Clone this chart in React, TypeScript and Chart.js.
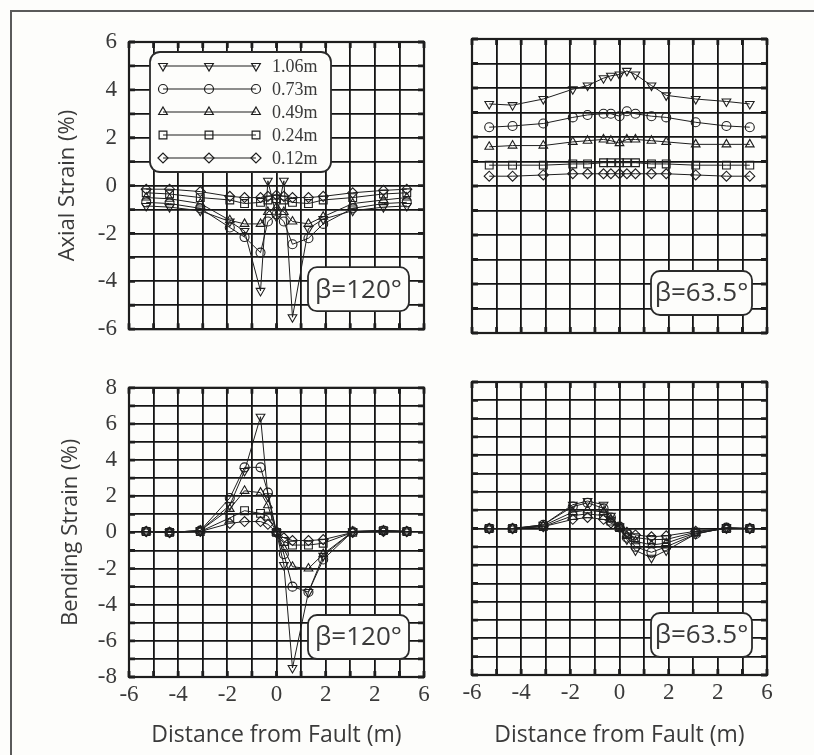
import React, { useEffect, useRef } from 'react';
import { Chart, registerables } from 'chart.js';
Chart.register(...registerables);

// ---------- data ----------
const X_POS = [-5.3, -4.35, -3.1, -1.9, -1.3, -0.65, -0.35, 0, 0.3, 0.65, 1.3, 1.9, 3.1, 4.35, 5.3];
const SERIES_LABELS = ['1.06m', '0.73m', '0.49m', '0.24m', '0.12m'];
const X_TICK_LABELS = ['-6', '-4', '-2', '0', '2', '2', '6'];

// Axial strain, beta = 120
const AX120_106 = [-0.85, -0.9, -1.05, -1.5, -1.9, -4.4, 0.2, -1.3, 0.2, -5.5, -1.8, -1.4, -1.05, -0.9, -0.85];
const AX120_073 = [-0.7, -0.75, -0.95, -1.75, -2.15, -2.8, -1.5, -1.2, -1.5, -2.45, -2.2, -1.6, -0.95, -0.75, -0.7];
const AX120_049 = [-0.5, -0.55, -0.75, -1.45, -1.6, -1.6, -1.1, -0.9, -1.1, -1.5, -1.6, -1.3, -0.75, -0.6, -0.5];
const AX120_024 = [-0.3, -0.35, -0.5, -0.6, -0.75, -0.7, -0.6, -0.55, -0.6, -0.7, -0.75, -0.6, -0.5, -0.35, -0.3];
const AX120_012 = [-0.15, -0.15, -0.25, -0.45, -0.5, -0.5, -0.45, -0.4, -0.45, -0.5, -0.5, -0.45, -0.3, -0.2, -0.15];

// Axial strain, beta = 63.5
const AX63_106 = [3.35, 3.3, 3.55, 3.95, 4.1, 4.4, 4.5, 4.55, 4.7, 4.55, 4.1, 3.7, 3.55, 3.45, 3.35];
const AX63_073 = [2.4, 2.45, 2.55, 2.8, 2.9, 2.95, 2.95, 2.85, 3.05, 2.95, 2.85, 2.8, 2.6, 2.45, 2.4];
const AX63_049 = [1.6, 1.65, 1.65, 1.8, 1.85, 1.9, 1.85, 1.75, 1.9, 1.9, 1.85, 1.8, 1.7, 1.7, 1.7];
const AX63_024 = [0.85, 0.85, 0.85, 0.9, 0.9, 0.95, 0.95, 0.95, 0.95, 0.95, 0.9, 0.9, 0.85, 0.85, 0.85];
const AX63_012 = [0.4, 0.4, 0.45, 0.5, 0.5, 0.5, 0.5, 0.5, 0.5, 0.5, 0.5, 0.5, 0.45, 0.4, 0.4];

// Bending strain, beta = 120
const BE120_106 = [0.05, 0, 0.1, 1.5, 3.4, 6.4, 2.0, 0, -1.8, -7.5, -3.3, -1.3, 0.05, 0.1, 0.05];
const BE120_073 = [0.05, 0, 0.1, 1.9, 3.6, 3.6, 2.2, 0, -1.2, -3.0, -3.3, -1.5, 0.05, 0.1, 0.05];
const BE120_049 = [0.05, 0, 0.1, 1.3, 2.3, 2.2, 1.5, 0, -0.9, -1.9, -2.0, -1.2, 0.05, 0.1, 0.05];
const BE120_024 = [0.05, 0, 0.05, 0.8, 1.2, 1.05, 0.9, 0, -0.5, -0.7, -0.7, -0.6, 0, 0.1, 0.05];
const BE120_012 = [0.05, 0, 0.05, 0.5, 0.6, 0.6, 0.45, 0, -0.3, -0.45, -0.45, -0.4, 0, 0.05, 0.05];

// Bending strain, beta = 63.5
const BE63_106 = [0, 0, 0.2, 1.3, 1.5, 1.3, 0.7, 0.1, -0.6, -1.2, -1.6, -1.2, -0.3, 0.05, 0];
const BE63_073 = [0, 0, 0.2, 1.2, 1.4, 1.1, 0.6, 0.1, -0.5, -1.0, -1.3, -1.0, -0.3, 0.05, 0];
const BE63_049 = [0, 0, 0.15, 0.9, 1.0, 0.9, 0.5, 0.05, -0.4, -0.7, -0.9, -0.8, -0.25, 0, 0];
const BE63_024 = [0, 0, 0.1, 0.7, 0.8, 0.7, 0.4, 0.05, -0.3, -0.5, -0.6, -0.6, -0.2, 0, 0];
const BE63_012 = [0, 0, 0.1, 0.5, 0.6, 0.5, 0.3, 0.05, -0.2, -0.35, -0.45, -0.4, -0.15, 0, 0];

// ---------- styles ----------
const POINT_STYLES = ['triangle', 'circle', 'triangle', 'rect', 'rectRot'];
const POINT_ROTATIONS = [180, 0, 0, 0, 0];
const POINT_RADII = [5, 4.5, 5, 5.5, 5];
const INK = '#1e1e1e';
const GRID = '#141414';
const BG = '#fdfdfb';
const TEXT = '#3a3a3a';
const SANS = "'Open Sans', 'Noto Sans', sans-serif";
const SERIF = "'Liberation Serif', 'DejaVu Serif', serif";

type Area = { l: number; t: number; r: number; b: number };
type PanelCfg = {
  canvas: { left: number; top: number; width: number; height: number };
  area: Area;
  yMin: number;
  yMax: number;
  yTitle?: string;
  yTitlePad?: number;
  showYLabels: boolean;
  showX: boolean;
  beta: string;
  legend: boolean;
  series: number[][];
};

const PANELS: PanelCfg[] = [
  {
    canvas: { left: 19, top: 12, width: 425, height: 343 },
    area: { l: 129, t: 42, r: 424, b: 335 },
    yMin: -6, yMax: 6, yTitle: 'Axial Strain (%)', yTitlePad: 36,
    showYLabels: true, showX: false, beta: 'β=120°', legend: true,
    series: [AX120_106, AX120_073, AX120_049, AX120_024, AX120_012],
  },
  {
    canvas: { left: 452, top: 12, width: 335, height: 341 },
    area: { l: 472, t: 39, r: 767, b: 333 },
    yMin: -6, yMax: 6,
    showYLabels: false, showX: false, beta: 'β=63.5°', legend: false,
    series: [AX63_106, AX63_073, AX63_049, AX63_024, AX63_012],
  },
  {
    canvas: { left: 19, top: 362, width: 425, height: 393 },
    area: { l: 129, t: 384, r: 424, b: 677 },
    yMin: -8, yMax: 8, yTitle: 'Bending Strain (%)', yTitlePad: 39,
    showYLabels: true, showX: true, beta: 'β=120°', legend: false,
    series: [BE120_106, BE120_073, BE120_049, BE120_024, BE120_012],
  },
  {
    canvas: { left: 452, top: 362, width: 335, height: 393 },
    area: { l: 472, t: 382, r: 767, b: 675 },
    yMin: -8, yMax: 8,
    showYLabels: false, showX: true, beta: 'β=63.5°', legend: false,
    series: [BE63_106, BE63_073, BE63_049, BE63_024, BE63_012],
  },
];

function drawMarker(ctx: CanvasRenderingContext2D, style: string, r: number, rotDeg: number, x: number, y: number) {
  let rad = (rotDeg * Math.PI) / 180;
  ctx.beginPath();
  if (style === 'circle') {
    ctx.arc(x, y, r, 0, Math.PI * 2);
  } else if (style === 'triangle') {
    const T = (2 * Math.PI) / 3;
    ctx.moveTo(x + Math.sin(rad) * r, y - Math.cos(rad) * r);
    rad += T;
    ctx.lineTo(x + Math.sin(rad) * r, y - Math.cos(rad) * r);
    rad += T;
    ctx.lineTo(x + Math.sin(rad) * r, y - Math.cos(rad) * r);
    ctx.closePath();
  } else if (style === 'rect') {
    const s = Math.SQRT1_2 * r;
    ctx.rect(x - s, y - s, 2 * s, 2 * s);
  } else {
    ctx.moveTo(x - r, y);
    ctx.lineTo(x, y - r);
    ctx.lineTo(x + r, y);
    ctx.lineTo(x, y + r);
    ctx.closePath();
  }
  ctx.stroke();
}

function roundBox(ctx: CanvasRenderingContext2D, x: number, y: number, w: number, h: number, rad: number) {
  ctx.beginPath();
  ctx.moveTo(x + rad, y);
  ctx.lineTo(x + w - rad, y);
  ctx.arcTo(x + w, y, x + w, y + rad, rad);
  ctx.lineTo(x + w, y + h - rad);
  ctx.arcTo(x + w, y + h, x + w - rad, y + h, rad);
  ctx.lineTo(x + rad, y + h);
  ctx.arcTo(x, y + h, x, y + h - rad, rad);
  ctx.lineTo(x, y + rad);
  ctx.arcTo(x, y, x + rad, y, rad);
  ctx.closePath();
}

function decorPlugin(cfg: PanelCfg) {
  return {
    id: 'panelDecor',
    afterDraw(chart: any) {
      const { ctx, chartArea: a, scales } = chart;
      const xs = scales.x;
      const ys = scales.y;
      ctx.save();
      // inner tick marks
      ctx.strokeStyle = INK;
      ctx.lineWidth = 2.8;
      ctx.beginPath();
      xs.ticks.forEach((t: any) => {
        const px = xs.getPixelForValue(t.value);
        ctx.moveTo(px, a.top);
        ctx.lineTo(px, a.top + 6);
        ctx.moveTo(px, a.bottom);
        ctx.lineTo(px, a.bottom - 6);
      });
      ys.ticks.forEach((t: any) => {
        const py = ys.getPixelForValue(t.value);
        ctx.moveTo(a.left, py);
        ctx.lineTo(a.left + 6, py);
        ctx.moveTo(a.right, py);
        ctx.lineTo(a.right - 6, py);
      });
      ctx.stroke();
      // frame of the plot area
      ctx.lineWidth = 2.2;
      ctx.strokeRect(a.left, a.top, a.right - a.left, a.bottom - a.top);

      // beta label box
      const bw = 101, bh = 44;
      const bx = a.right - 15 - bw;
      const by = a.bottom - 18 - bh;
      roundBox(ctx, bx, by, bw, bh, 9);
      ctx.fillStyle = BG;
      ctx.fill();
      ctx.lineWidth = 1.8;
      ctx.strokeStyle = '#2a2a2a';
      ctx.stroke();
      ctx.fillStyle = TEXT;
      ctx.font = `26px ${SANS}`;
      ctx.textAlign = 'center';
      ctx.textBaseline = 'middle';
      ctx.fillText(cfg.beta, bx + bw / 2, by + bh / 2 + 1);

      // legend
      if (cfg.legend) {
        const lx = a.left + 21, ly = a.top + 10, lw = 181, lh = 120;
        roundBox(ctx, lx, ly, lw, lh, 10);
        ctx.fillStyle = BG;
        ctx.fill();
        ctx.lineWidth = 1.8;
        ctx.strokeStyle = '#2a2a2a';
        ctx.stroke();
        SERIES_LABELS.forEach((lab, i) => {
          const yy = ly + 14 + i * 23;
          const x0 = lx + 13, x1 = lx + 59, x2 = lx + 106;
          ctx.strokeStyle = INK;
          ctx.lineWidth = 1.2;
          ctx.beginPath();
          ctx.moveTo(x0, yy);
          ctx.lineTo(x2, yy);
          ctx.stroke();
          [x0, x1, x2].forEach((mx) => {
            drawMarker(ctx, POINT_STYLES[i], POINT_RADII[i], POINT_ROTATIONS[i], mx, yy);
          });
          ctx.fillStyle = TEXT;
          ctx.font = `18px ${SERIF}`;
          ctx.textAlign = 'left';
          ctx.textBaseline = 'middle';
          ctx.fillText(lab, lx + 122, yy + 1);
        });
      }
      ctx.restore();
    },
  };
}

function Panel({ cfg }: { cfg: PanelCfg }) {
  const ref = useRef<HTMLCanvasElement | null>(null);
  useEffect(() => {
    if (!ref.current) return;
    const c = cfg.canvas;
    const a = cfg.area;
    const padTop = a.t - c.top;
    const padRight = c.left + c.width - a.r;
    const yW = a.l - c.left;
    const xH = cfg.showX ? c.top + c.height - a.b : 0;
    const padBottom = cfg.showX ? 0 : c.top + c.height - a.b;

    const datasets = cfg.series.map((vals, i) => ({
      label: SERIES_LABELS[i],
      data: vals.map((v, j) => ({ x: X_POS[j], y: v })),
      borderColor: INK,
      borderWidth: 1,
      pointStyle: POINT_STYLES[i] as any,
      pointRotation: POINT_ROTATIONS[i],
      pointRadius: POINT_RADII[i],
      pointBorderWidth: 1.1,
      pointBorderColor: INK,
      pointBackgroundColor: 'rgba(0,0,0,0)',
      fill: false,
      tension: 0,
    }));

    const chart = new Chart(ref.current, {
      type: 'line',
      data: { datasets },
      options: {
        animation: false,
        responsive: false,
        maintainAspectRatio: false,
        devicePixelRatio: 1,
        layout: { padding: { left: 0, top: padTop, right: padRight, bottom: padBottom } },
        plugins: { legend: { display: false }, tooltip: { enabled: false } },
        scales: {
          x: {
            type: 'linear',
            min: -6,
            max: 6,
            ticks: {
              stepSize: 1,
              autoSkip: false,
              maxRotation: 0,
              display: cfg.showX,
              padding: 4,
              color: TEXT,
              font: { family: SERIF, size: 23 },
              callback: (v: any) => {
                const n = Number(v);
                return n % 2 === 0 ? X_TICK_LABELS[(n + 6) / 2] : '';
              },
            },
            grid: { color: GRID, lineWidth: 1.8, drawTicks: false },
            border: { display: false },
            title: {
              display: cfg.showX,
              text: 'Distance from Fault (m)',
              color: TEXT,
              font: { family: SANS, size: 23 },
              padding: { top: 0, bottom: 6 },
            },
            afterFit: (s: any) => {
              s.height = xH;
            },
          },
          y: {
            type: 'linear',
            min: cfg.yMin,
            max: cfg.yMax,
            ticks: {
              stepSize: 1,
              autoSkip: false,
              display: cfg.showYLabels,
              padding: 12,
              color: TEXT,
              font: { family: SERIF, size: 23 },
              callback: (v: any) => {
                const n = Number(v);
                return n % 2 === 0 ? String(n) : '';
              },
            },
            grid: { color: GRID, lineWidth: 1.8, drawTicks: false },
            border: { display: false },
            title: {
              display: !!cfg.yTitle,
              text: cfg.yTitle || '',
              color: TEXT,
              font: { family: SANS, size: 22 },
              padding: { top: cfg.yTitlePad || 0, bottom: 0 },
            },
            afterFit: (s: any) => {
              s.width = yW;
            },
          },
        },
      },
      plugins: [decorPlugin(cfg)],
    });
    return () => chart.destroy();
  }, [cfg]);

  return (
    <canvas
      ref={ref}
      width={cfg.canvas.width}
      height={cfg.canvas.height}
      style={{
        position: 'absolute',
        left: cfg.canvas.left,
        top: cfg.canvas.top,
        width: cfg.canvas.width,
        height: cfg.canvas.height,
      }}
    />
  );
}

export default function App() {
  return (
    <div
      style={{
        position: 'absolute',
        left: 0,
        top: 0,
        width: 814,
        height: 755,
        overflow: 'hidden',
        background: BG,
      }}
    >
      <div
        style={{
          position: 'absolute',
          left: 10,
          top: 10,
          width: 900,
          height: 900,
          borderTop: '2px solid #5a5a5a',
          borderLeft: '2px solid #5a5a5a',
        }}
      />
      {PANELS.map((p, i) => (
        <Panel key={i} cfg={p} />
      ))}
    </div>
  );
}
